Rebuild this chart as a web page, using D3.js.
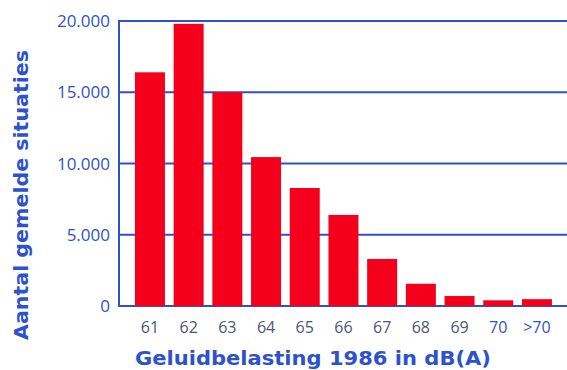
<!DOCTYPE html>
<html><head><meta charset="utf-8">
<script src="https://cdn.jsdelivr.net/npm/d3@7"></script>
<style>html,body{margin:0;padding:0;background:#fff;}svg{display:block;}</style>
</head><body>
<svg id="c" width="567" height="370"></svg>
<script>
const categories = ["61","62","63","64","65","66","67","68","69","70",">70"];
const values = [16400, 19800, 15000, 10450, 8280, 6390, 3300, 1560, 700, 400, 480];
const yTicks = [0, 5000, 10000, 15000, 20000];
const yTickLabels = ["0","5.000","10.000","15.000","20.000"];

const blue = "#2d52cc";
const red = "#f5001c";
const svg = d3.select("#c");
const x = d3.scaleBand().domain(categories).range([130.6, 556.3]).paddingInner(0.225).paddingOuter(0.1125);
const y = d3.scaleLinear().domain([0, 20000]).range([306, 21]);

// gridlines
svg.append("g").selectAll("line").data(yTicks).join("line")
  .attr("x1", 119).attr("x2", 567)
  .attr("y1", d => y(d)).attr("y2", d => y(d))
  .attr("stroke", blue).attr("stroke-width", 2);

// bars
svg.append("g").selectAll("rect").data(values).join("rect")
  .attr("x", (d,i) => x(categories[i]))
  .attr("width", x.bandwidth())
  .attr("y", d => y(d))
  .attr("height", d => y(0) - y(d))
  .attr("fill", red);

// y axis line
svg.append("line").attr("x1", 119).attr("x2", 119).attr("y1", y(20000)-1).attr("y2", y(0)+1)
  .attr("stroke", blue).attr("stroke-width", 2);

// y tick labels
svg.append("g").selectAll("text").data(yTicks).join("text")
  .attr("x", 110).attr("y", d => y(d)).attr("dy", "0.36em")
  .attr("text-anchor", "end")
  .attr("font-family", "Open Sans, sans-serif").attr("font-size", 17)
  .attr("fill", blue)
  .text((d,i) => yTickLabels[i]);

// x tick labels
svg.append("g").selectAll("text").data(categories).join("text")
  .attr("x", d => x(d) + x.bandwidth()/2).attr("y", 333)
  .attr("text-anchor", "middle")
  .attr("font-family", "Open Sans, sans-serif").attr("font-size", 16)
  .attr("fill", (d,i) => i >= 9 ? blue : "#4e5572")
  .text(d => d);

// axis titles
svg.append("text").attr("x", 313).attr("y", 365).attr("text-anchor", "middle")
  .attr("font-family", "DejaVu Sans, sans-serif").attr("font-weight", "bold").attr("font-size", 20)
  .attr("textLength", 356).attr("lengthAdjust", "spacingAndGlyphs")
  .attr("fill", blue).text("Geluidbelasting 1986 in dB(A)");

svg.append("text").attr("transform", "translate(28,195) rotate(-90)").attr("text-anchor", "middle")
  .attr("font-family", "DejaVu Sans, sans-serif").attr("font-weight", "bold").attr("font-size", 20)
  .attr("textLength", 290).attr("lengthAdjust", "spacingAndGlyphs")
  .attr("fill", blue).text("Aantal gemelde situaties");
</script>
</body></html>
